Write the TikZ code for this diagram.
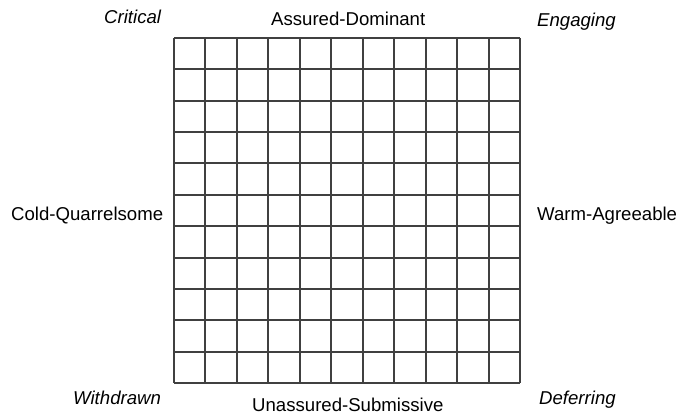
\documentclass[tikz,border=0pt]{standalone}
\usepackage{fontspec}
\setmainfont{Liberation Sans}
\begin{document}
\begin{tikzpicture}[x=1pt,y=-1pt,
  lbl/.style={font=\fontsize{18.6}{22}\selectfont, inner sep=0pt, anchor=base west},
  ilbl/.style={lbl, font=\fontsize{18.6}{22}\selectfont\itshape},
  gridline/.style={draw=black!75, line width=1.4pt}]
\useasboundingbox (0,0) rectangle (676,414);
\foreach \i in {0,...,11} {
  \pgfmathsetmacro{\gx}{round(174+\i*346/11)}
  \pgfmathsetmacro{\gy}{round(38+\i*345/11)}
  \draw[gridline] (\gx,38) -- (\gx,383);
  \draw[gridline] (174,\gy) -- (520,\gy);
}
\node[ilbl] (critical) at (104,24) {Critical};
\node[lbl] (top) at (271,26) {Assured-Dominant};
\node[ilbl] (engaging) at (537,27) {Engaging};
\node[lbl] (left) at (11,220) {Cold-Quarrelsome};
\node[lbl] (right) at (537,220) {Warm-Agreeable};
\node[ilbl] (withdrawn) at (73,404) {Withdrawn};
\node[lbl] (bottom) at (252,411.5) {Unassured-Submissive};
\node[ilbl] (deferring) at (539,404) {Deferring};
\end{tikzpicture}
\end{document}
